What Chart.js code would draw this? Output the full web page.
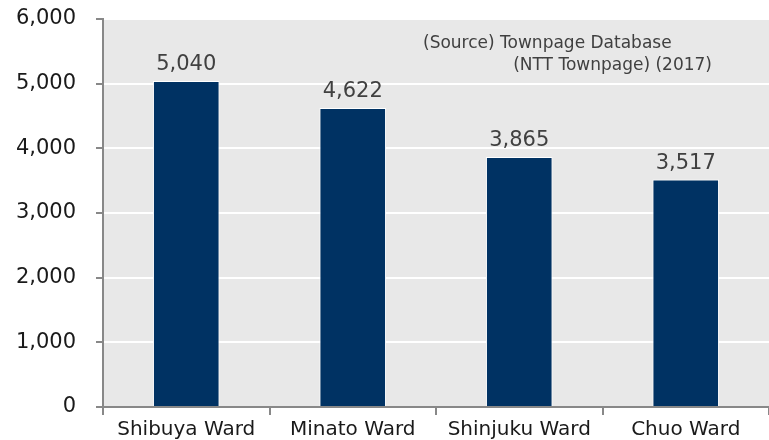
<!DOCTYPE html>
<html>
<head>
<meta charset="utf-8">
<script src="https://cdn.jsdelivr.net/npm/chart.js@4"></script>
<style>
	html, body { margin: 0; padding: 0; background: #fff; }
	#wrap { width: 769px; height: 440px; }
</style>
</head>
<body>
<div id="wrap"><canvas id="myChart"></canvas></div>
<script>
// 데이터
const wards = ['Shibuya Ward', 'Minato Ward', 'Shinjuku Ward', 'Chuo Ward'];
const counts = [5040, 4622, 3865, 3517];
const sourceLines = ['(Source) Townpage Database', '(NTT Townpage) (2017)'];

const FONT = '"DejaVu Sans", Verdana, sans-serif';

// 플롯 배경 + 값 라벨 + 출처
const decor = {
	id: 'decor',
	beforeDraw(chart) {
		const { ctx, chartArea: a } = chart;
		ctx.save();
		ctx.fillStyle = '#e8e8e8';
		ctx.fillRect(a.left, a.top, a.right - a.left, a.bottom - a.top);
		ctx.restore();
	},
	afterDatasetsDraw(chart) {
		const { ctx } = chart;
		const meta = chart.getDatasetMeta(0);
		ctx.save();
		ctx.font = '21px ' + FONT;
		ctx.fillStyle = '#404040';
		ctx.textAlign = 'center';
		ctx.textBaseline = 'alphabetic';
		meta.data.forEach((bar, i) => {
			ctx.fillText(counts[i].toLocaleString('en-US'), bar.x, bar.y - 11);
		});
		ctx.font = '17px ' + FONT;
		ctx.textBaseline = 'middle';
		ctx.textAlign = 'left';
		ctx.fillText(sourceLines[0], 423, 44);
		ctx.textAlign = 'right';
		ctx.fillText(sourceLines[1], 712, 66);
		ctx.restore();
	}
};

new Chart(document.getElementById('myChart'), {
	type: 'bar',
	data: {
		labels: wards,
		datasets: [{
			data: counts,
			backgroundColor: '#003263',
			borderColor: '#ffffff',
			borderWidth: 1,
			barPercentage: 0.4,
			categoryPercentage: 1
		}]
	},
	options: {
		responsive: true,
		maintainAspectRatio: false,
		animation: false,
		layout: { padding: { top: 19, left: 0, right: 0, bottom: 0 } },
		plugins: { legend: { display: false }, tooltip: { enabled: false } },
		scales: {
			x: {
				afterFit: s => { s.height = 33; s.paddingLeft = 0; s.paddingRight = 0; },
				border: { color: '#888888', width: 2 },
				grid: { offset: true, drawOnChartArea: false, tickColor: '#888888', tickLength: 8, lineWidth: 2 },
				ticks: { color: '#1a1a1a', font: { family: FONT, size: 20 }, padding: 3 }
			},
			y: {
				min: 0,
				max: 6000,
				afterFit: s => { s.width = 103; s.paddingTop = 0; s.paddingBottom = 0; },
				border: { color: '#888888', width: 2 },
				grid: { color: '#ffffff', lineWidth: 2, tickColor: '#888888', tickLength: 7 },
				ticks: {
					stepSize: 1000,
					color: '#1a1a1a',
					font: { family: FONT, size: 21 },
					padding: 20,
					callback: v => v.toLocaleString('en-US')
				}
			}
		}
	},
	plugins: [decor]
});
</script>
</body>
</html>
